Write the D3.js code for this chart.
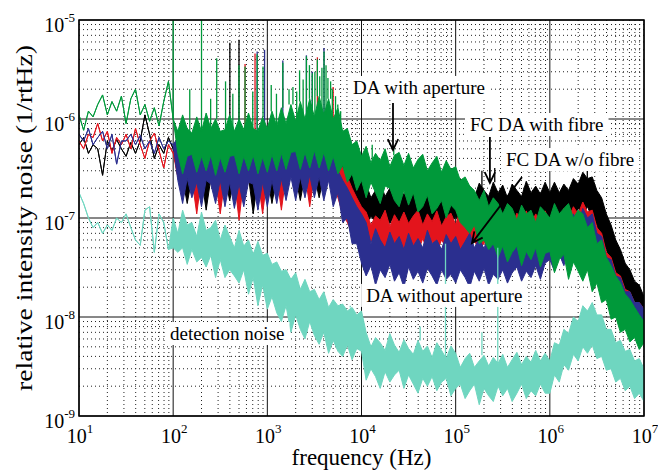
<!DOCTYPE html>
<html><head><meta charset="utf-8">
<script src="https://cdn.jsdelivr.net/npm/d3@7"></script>
<style>body{margin:0;background:#fff}svg{display:block}text{font-family:"Liberation Serif","Times New Roman",serif;fill:#000}</style>
</head><body><svg id="c" width="658" height="471"></svg>
<script>
// frequency grid (Hz)
const freq = [
10,11.2,12.6,14.1,15.8,17.8,20,22.4,25.1,28.2,
31.6,35.5,39.8,44.7,50.1,56.2,63.1,70.8,79.4,89.1,
100,112,126,141,158,178,200,224,251,282,
316,355,398,447,501,562,631,708,794,891,
1e3,1.12e3,1.26e3,1.41e3,1.58e3,1.78e3,2e3,2.24e3,2.51e3,2.82e3,
3.16e3,3.55e3,3.98e3,4.47e3,5.01e3,5.62e3,6.31e3,7.08e3,7.94e3,8.91e3,
1e4,1.12e4,1.26e4,1.41e4,1.58e4,1.78e4,2e4,2.24e4,2.51e4,2.82e4,
3.16e4,3.55e4,3.98e4,4.47e4,5.01e4,5.62e4,6.31e4,7.08e4,7.94e4,8.91e4,
1e5,1.12e5,1.26e5,1.41e5,1.58e5,1.78e5,2e5,2.24e5,2.51e5,2.82e5,
3.16e5,3.55e5,3.98e5,4.47e5,5.01e5,5.62e5,6.31e5,7.08e5,7.94e5,8.91e5,
1e6,1.12e6,1.26e6,1.41e6,1.58e6,1.78e6,2e6,2.24e6,2.51e6,2.82e6,
3.16e6,3.55e6,3.98e6,4.47e6,5.01e6,5.62e6,6.31e6,7.08e6,7.94e6,8.91e6,
1e7];

// FC DA with fibre (black): upper / lower envelope of the noise
const blackHi = [
5.5e-7,6.5e-7,4.5e-7,5.5e-7,5e-7,2.7e-7,6e-7,4.8e-7,6.2e-7,5e-7,
4.2e-7,5.8e-7,4.5e-7,6e-7,1.1e-6,7e-7,4e-7,5.5e-7,4.5e-7,6.5e-7,
5e-7,6e-7,5e-7,6.5e-7,5.5e-7,6e-7,5e-7,6.5e-7,5.5e-7,6e-7,
5.5e-7,6.5e-7,5.5e-7,6e-7,5.5e-7,6.5e-7,5.5e-7,6e-7,5.5e-7,6e-7,
6e-7,6.5e-7,6e-7,7e-7,6.5e-7,7e-7,6.5e-7,7e-7,7e-7,7.5e-7,
7e-7,7.5e-7,7e-7,7e-7,6e-7,5e-7,4e-7,3.2e-7,2.8e-7,2.5e-7,
2.4e-7,2.2e-7,1.6e-7,1.9e-7,2.3e-7,1.65e-7,2e-7,1.55e-7,2.15e-7,1.7e-7,
2.05e-7,2.3e-7,1.6e-7,1.85e-7,2.2e-7,1.6e-7,2.1e-7,1.9e-7,1.6e-7,2.3e-7,
1.7e-7,2.5e-7,1.75e-7,2.1e-7,1.6e-7,2.25e-7,1.9e-7,1.65e-7,2.3e-7,1.8e-7,
2.15e-7,1.6e-7,2.2e-7,1.9e-7,1.65e-7,2.35e-7,1.8e-7,2.1e-7,1.75e-7,2.3e-7,
1.8e-7,2.3e-7,1.8e-7,2.2e-7,1.9e-7,2.5e-7,2.2e-7,2.9e-7,2.5e-7,2.6e-7,
1.9e-7,1.6e-7,1.1e-7,8.5e-8,6e-8,4.8e-8,3.5e-8,3e-8,2.3e-8,2.1e-8,
1.6e-8];
const blackLo = [
null,null,null,null,null,null,null,null,null,null,
null,null,null,null,null,null,null,null,null,null,
null,2.6e-7,2.5e-7,1.4e-7,2.6e-7,2.5e-7,2.6e-7,1.2e-7,2.5e-7,2.6e-7,
2.5e-7,2.6e-7,1.5e-7,2.5e-7,2.6e-7,2.5e-7,2.6e-7,1.1e-7,2.5e-7,2.6e-7,
2.6e-7,1.4e-7,2.6e-7,2.7e-7,2.6e-7,2.7e-7,2.6e-7,1.5e-7,2.7e-7,2.8e-7,
2.7e-7,1.6e-7,2.7e-7,2.6e-7,2.4e-7,1.8e-7,1.4e-7,1.2e-7,1.1e-7,1e-7,
1e-7,8.5e-8,1.05e-7,9e-8,8e-8,1.02e-7,8.8e-8,1.05e-7,8.2e-8,9.5e-8,
8.5e-8,1.05e-7,9.2e-8,8e-8,1e-7,8.8e-8,1.04e-7,8.4e-8,9.8e-8,8.6e-8,
1.04e-7,8.5e-8,9.5e-8,1.05e-7,8.3e-8,9.6e-8,8.7e-8,1.05e-7,8.8e-8,1e-7,
8.6e-8,1.04e-7,9e-8,8.2e-8,1.02e-7,8.9e-8,1.05e-7,8.5e-8,9.7e-8,8.8e-8,
1e-7,9e-8,1.05e-7,9.5e-8,1.1e-7,1e-7,1.25e-7,1.1e-7,1.3e-7,1e-7,
8.5e-8,6e-8,4.8e-8,3.4e-8,2.9e-8,2.1e-8,1.8e-8,1.3e-8,1.2e-8,8.5e-9,
8e-9];
const blackSpikeF = [400,500,1.9e5,2.6e5,2.5e6];
const blackSpikeV = [5.9e-6,6.3e-6,3e-7,3.2e-7,3e-7];

// FC DA w/o fibre (red)
const redHi = [
6e-7,5e-7,7e-7,6.5e-7,9e-7,6e-7,7.5e-7,4.5e-7,6.5e-7,5.5e-7,
7e-7,5e-7,8e-7,5.5e-7,4e-7,6e-7,7.2e-7,4.8e-7,3.2e-7,5.5e-7,
4.5e-7,6e-7,5.5e-7,6.5e-7,5e-7,6e-7,5.5e-7,6.5e-7,5e-7,6e-7,
5.5e-7,6e-7,5e-7,6.5e-7,5.5e-7,6e-7,5e-7,6e-7,5.5e-7,6e-7,
5.5e-7,6.5e-7,6e-7,7e-7,6e-7,7e-7,6.5e-7,7e-7,6.5e-7,7e-7,
6.5e-7,7e-7,6.5e-7,6e-7,5.5e-7,4e-7,3.2e-7,2.6e-7,2e-7,1.6e-7,
1.3e-7,1.15e-7,8.5e-8,1.05e-7,9.5e-8,1.2e-7,8.2e-8,1.08e-7,9e-8,1.15e-7,
8.8e-8,1.05e-7,1.2e-7,8.5e-8,1.1e-7,9.2e-8,1.18e-7,8.3e-8,1.03e-7,1.12e-7,
8.6e-8,1.2e-7,9.4e-8,1.08e-7,8.8e-8,1.22e-7,9.6e-8,1.1e-7,8.5e-8,1.15e-7,
9.2e-8,1.08e-7,8.6e-8,1.12e-7,9.6e-8,1.18e-7,8.8e-8,1.1e-7,9.4e-8,1.18e-7,
9e-8,1.2e-7,9.5e-8,1.25e-7,1e-7,1.3e-7,1.1e-7,1.45e-7,1.15e-7,1.2e-7,
8e-8,7e-8,4.5e-8,4e-8,2.8e-8,2.6e-8,1.9e-8,1.8e-8,1.4e-8,1.4e-8,
1.2e-8];
const redLo = [
null,null,null,null,null,null,null,null,null,null,
null,null,null,null,null,null,null,null,null,null,
null,2.6e-7,2.4e-7,2.7e-7,2.5e-7,1.1e-7,2.6e-7,2.5e-7,2.6e-7,2.4e-7,
1.1e-7,2.5e-7,2.6e-7,2.4e-7,9.5e-8,2.5e-7,2.6e-7,2.4e-7,2.5e-7,1.1e-7,
2.6e-7,2.5e-7,2.6e-7,1.2e-7,2.7e-7,2.6e-7,2.7e-7,2.6e-7,2.8e-7,1.3e-7,
2.7e-7,2.8e-7,2.6e-7,2.5e-7,2.2e-7,1.6e-7,1.1e-7,9e-8,7e-8,6.5e-8,
5.5e-8,4.6e-8,6e-8,5e-8,5.8e-8,4.4e-8,6.2e-8,4.8e-8,5.6e-8,4.5e-8,
6e-8,5.2e-8,4.5e-8,6.2e-8,4.7e-8,5.8e-8,4.5e-8,6e-8,5e-8,4.6e-8,
6e-8,4.5e-8,5.6e-8,4.9e-8,6.1e-8,4.4e-8,5.7e-8,4.8e-8,6e-8,4.6e-8,
5.6e-8,4.8e-8,6.1e-8,4.5e-8,5.8e-8,4.6e-8,6e-8,4.9e-8,5.9e-8,4.8e-8,
6.2e-8,5e-8,6.5e-8,5.3e-8,7e-8,5.5e-8,7.5e-8,6e-8,7.5e-8,5.5e-8,
4.5e-8,3e-8,2.6e-8,1.8e-8,1.6e-8,1.2e-8,1.1e-8,9e-9,8.5e-9,7.5e-9,
7e-9];
const redSpikeF = [580,740,3400,5000];
const redSpikeV = [3.6e-6,4.6e-6,4.2e-6,2.1e-6];

// DA without aperture (blue)
const blueHi = [
7e-7,6e-7,8e-7,5.5e-7,6.5e-7,7.5e-7,5e-7,7e-7,3.5e-7,6e-7,
6e-7,7e-7,5.5e-7,6.8e-7,5e-7,6e-7,4.5e-7,6.5e-7,5e-7,6e-7,
5.5e-7,6.5e-7,4.5e-7,6e-7,5e-7,6.5e-7,4.5e-7,6e-7,5e-7,6.5e-7,
4.5e-7,6e-7,5e-7,6.5e-7,4.5e-7,6e-7,5e-7,6.5e-7,4.5e-7,6e-7,
5e-7,6.5e-7,5e-7,7e-7,5.5e-7,7e-7,5.5e-7,7.5e-7,6e-7,7.5e-7,
6e-7,7.5e-7,6e-7,6.5e-7,5e-7,3e-7,2.4e-7,2e-7,1.6e-7,1.3e-7,
1.1e-7,9e-8,5.5e-8,7.8e-8,6e-8,5e-8,7.2e-8,5.5e-8,6.5e-8,4.8e-8,
7e-8,5.2e-8,6.2e-8,5e-8,7.5e-8,5.5e-8,6e-8,4.8e-8,6.8e-8,5.5e-8,
6.5e-8,4.8e-8,5.8e-8,7e-8,5e-8,6.2e-8,4.9e-8,6.9e-8,5.4e-8,6.3e-8,
5.2e-8,7.2e-8,5.6e-8,6.4e-8,7.5e-8,5.6e-8,6.6e-8,7.8e-8,6e-8,8e-8,
6e-8,8.5e-8,6.8e-8,9.5e-8,7.5e-8,1.1e-7,8.5e-8,1.25e-7,1e-7,1.1e-7,
7e-8,6.5e-8,4e-8,3.8e-8,2.6e-8,2.5e-8,1.8e-8,1.8e-8,1.4e-8,1.4e-8,
1.2e-8];
const blueLo = [
null,null,null,null,null,null,null,null,null,null,
null,null,null,null,null,null,null,null,null,null,
null,2.4e-7,1.4e-7,2.5e-7,1.6e-7,2.3e-7,1.3e-7,2.4e-7,2.2e-7,1.4e-7,
2.4e-7,1.3e-7,2.3e-7,1.25e-7,2.2e-7,1.3e-7,2.3e-7,2.2e-7,1.2e-7,2.3e-7,
1.3e-7,2.4e-7,1.4e-7,2.5e-7,1.5e-7,2.6e-7,1.5e-7,2.6e-7,1.6e-7,2.7e-7,
1.6e-7,2.6e-7,1.5e-7,2.4e-7,1.3e-7,1.8e-7,9e-8,1e-7,5.5e-8,5.5e-8,
3.5e-8,2.6e-8,3.3e-8,2.1e-8,3e-8,2.5e-8,3.4e-8,2.3e-8,2.8e-8,2e-8,
3.2e-8,2.4e-8,2.9e-8,2.2e-8,3.1e-8,2.6e-8,2.1e-8,3e-8,2.4e-8,2.7e-8,
2.2e-8,3e-8,2.5e-8,2e-8,2.9e-8,2.3e-8,3.1e-8,2.1e-8,2.7e-8,2.4e-8,
3e-8,2.2e-8,2.8e-8,3.2e-8,2.3e-8,2.9e-8,2.5e-8,3.3e-8,2.4e-8,3.5e-8,
3.8e-8,2.9e-8,4.3e-8,3.3e-8,5e-8,3.8e-8,5.8e-8,4.2e-8,5.5e-8,5e-8,
3e-8,2.8e-8,1.8e-8,1.8e-8,1.2e-8,1.25e-8,9e-9,9.5e-9,7.5e-9,7.5e-9,
6.5e-9];
const blueSpikeF = [780,935,1460,2600,3000,4000];
const blueSpikeV = [4.8e-6,5e-6,3.9e-6,4.4e-6,3e-6,5.2e-6];

// DA with aperture (green)
const greenHi = [
1.1e-6,7.7e-7,1.2e-6,1.05e-6,1.4e-6,1.75e-6,1.1e-6,1.5e-6,1.2e-6,1.7e-6,
9e-7,1.6e-6,2e-6,1.1e-6,1.4e-6,9.5e-7,1.3e-6,8.5e-7,1.5e-6,2.4e-6,
1e-6,7.5e-7,1.1e-6,8e-7,7.2e-7,1.05e-6,7.5e-7,1.15e-6,8e-7,1e-6,
7.5e-7,7.8e-7,1.1e-6,7.5e-7,1e-6,7.8e-7,1.15e-6,8e-7,7.5e-7,1.05e-6,
8e-7,1.2e-6,8.5e-7,1.3e-6,9e-7,1.4e-6,9.5e-7,1.5e-6,1e-6,1.6e-6,
1.05e-6,1.7e-6,1.1e-6,1.6e-6,1e-6,1.3e-6,7.5e-7,8e-7,5.5e-7,6e-7,
4.2e-7,5.3e-7,3.6e-7,4.5e-7,3.8e-7,5e-7,3.3e-7,4.3e-7,4.6e-7,3.4e-7,
4.5e-7,3.2e-7,3.9e-7,4.4e-7,3e-7,3.6e-7,4.2e-7,2.9e-7,3.8e-7,3.1e-7,
3.3e-7,2.4e-7,2.6e-7,2.1e-7,1.9e-7,1.5e-7,1.9e-7,1.3e-7,1.6e-7,1.4e-7,
1.1e-7,1.4e-7,1.25e-7,9.5e-8,1.35e-7,1.1e-7,1.2e-7,9e-8,1.3e-7,1.15e-7,
1e-7,1.4e-7,1.1e-7,1.25e-7,1.4e-7,1e-7,1.2e-7,1.1e-7,8e-8,9e-8,
5.5e-8,6e-8,4e-8,3.3e-8,2.6e-8,2.2e-8,1.7e-8,1.5e-8,1.25e-8,1.05e-8,
9e-9];
const greenLo = [
null,null,null,null,null,null,null,null,null,null,
null,null,null,null,null,null,null,null,null,null,
null,4.5e-7,2.8e-7,4.2e-7,4.4e-7,2.9e-7,4.2e-7,3e-7,4.3e-7,2.7e-7,
4.1e-7,2.9e-7,4.2e-7,4.3e-7,2.8e-7,4.2e-7,3e-7,4.3e-7,2.8e-7,4.1e-7,
2.9e-7,4.4e-7,3e-7,4.5e-7,3.1e-7,4.6e-7,4.7e-7,3.1e-7,4.6e-7,3.2e-7,
4.8e-7,3.2e-7,4.6e-7,3e-7,4.2e-7,2.8e-7,3.4e-7,2.3e-7,2.8e-7,1.9e-7,
2.4e-7,1.6e-7,2.3e-7,1.8e-7,1.4e-7,2.1e-7,2e-7,1.5e-7,1.3e-7,1.9e-7,
1.35e-7,1.8e-7,1.15e-7,1.3e-7,1.7e-7,1.1e-7,1.25e-7,1.5e-7,1e-7,1.35e-7,
1.2e-7,9e-8,8e-8,7e-8,8.5e-8,5.5e-8,6e-8,4.8e-8,5.5e-8,4e-8,
5.2e-8,3.6e-8,4.5e-8,5.2e-8,3.3e-8,4.6e-8,3.8e-8,5e-8,3.2e-8,4.4e-8,
4.6e-8,2.8e-8,3.8e-8,4.3e-8,2.4e-8,3.6e-8,2.9e-8,2.3e-8,3e-8,1.8e-8,
2.2e-8,1.4e-8,1.5e-8,9.5e-9,1e-8,7e-9,7.5e-9,5.6e-9,6.2e-9,4.7e-9,
5.5e-9];
const greenSpikeF = [100,150,200,250,290,360,430,500,580,700,780,900,1100,1250,1460,1700,1870,2050,2200,2400,2600,2800,3000,3200,3400,3600,3800,4000,4200,4400,4700,4900,5300,5600,6000,1.3e4,2.2e4];
const greenSpikeV = [1e-5,2e-6,1e-5,1.6e-6,4.1e-6,2.4e-6,1.8e-6,3.5e-6,3.4e-6,1.9e-6,4.5e-6,3.4e-6,2.2e-6,1.8e-6,3.7e-6,2e-6,2.1e-6,1.9e-6,3.1e-6,2.5e-6,4.3e-6,3.5e-6,2.9e-6,3e-6,4e-6,2.7e-6,3.3e-6,4.8e-6,3.5e-6,2.6e-6,2.4e-6,2e-6,1.7e-6,1.4e-6,1.2e-6,5.5e-7,5.2e-7];

// detection noise (turquoise)
const detHi = [
1.8e-7,1.4e-7,1e-7,8e-8,9e-8,7e-8,8.5e-8,7.5e-8,1e-7,9e-8,
1.1e-7,8e-8,6e-8,5.3e-8,1.2e-7,1.3e-7,4.5e-8,1.1e-7,9e-8,4.8e-8,
1e-7,7e-8,1.2e-7,8.5e-8,9e-8,6.5e-8,1.15e-7,7.5e-8,8e-8,9.5e-8,
6e-8,8.5e-8,6.5e-8,5e-8,7.5e-8,5.2e-8,6e-8,4.3e-8,5.8e-8,4.2e-8,
4.4e-8,3.4e-8,3.6e-8,2.9e-8,3e-8,2.4e-8,2.8e-8,1.9e-8,2.4e-8,1.8e-8,
1.9e-8,1.5e-8,1.8e-8,1.25e-8,1.5e-8,1.3e-8,1.35e-8,1.15e-8,1.25e-8,1.05e-8,
1.15e-8,7e-9,5e-9,6.2e-9,5.5e-9,4.6e-9,6.8e-9,5.2e-9,4.4e-9,5.9e-9,
4.8e-9,4.2e-9,5.8e-9,4.5e-9,5.1e-9,3.9e-9,5.5e-9,4.6e-9,3.8e-9,5.1e-9,
4.3e-9,3.1e-9,3.8e-9,4.3e-9,3.1e-9,3.6e-9,4.1e-9,3.2e-9,3.9e-9,3.4e-9,
4.2e-9,3.1e-9,3.7e-9,4.4e-9,3.3e-9,4e-9,3.5e-9,4.6e-9,3.6e-9,4.3e-9,
3.6e-9,5.5e-9,5.2e-9,7.5e-9,6.8e-9,1e-8,9e-9,1.3e-8,1.15e-8,1.4e-8,
1.05e-8,1.05e-8,7.5e-9,7.5e-9,5.5e-9,5.8e-9,4.5e-9,4.7e-9,3.6e-9,3.8e-9,
3e-9];
const detLo = [
null,null,null,null,null,null,null,null,null,null,
null,null,null,null,null,null,null,null,null,null,
5e-8,4.5e-8,5e-8,3.4e-8,4.8e-8,3.6e-8,4e-8,3.2e-8,4.2e-8,2.5e-8,
3.8e-8,2.5e-8,3e-8,2.6e-8,2.2e-8,3e-8,1.7e-8,2.5e-8,1.3e-8,2.1e-8,
1.2e-8,1.6e-8,1.1e-8,9e-9,1.3e-8,7e-9,1.05e-8,7.5e-9,6e-9,9e-9,
6.5e-9,5.3e-9,7e-9,4.3e-9,5.8e-9,4.5e-9,4e-9,5.2e-9,3.7e-9,4.8e-9,
4.5e-9,2.3e-9,3e-9,2.5e-9,1.9e-9,2.8e-9,2.2e-9,2.6e-9,2.9e-9,1.9e-9,
2.6e-9,2.1e-9,1.7e-9,2.4e-9,2e-9,2.5e-9,1.8e-9,2.2e-9,2.4e-9,1.6e-9,
1.9e-9,2.1e-9,1.5e-9,1.8e-9,2.1e-9,1.3e-9,1.9e-9,1.6e-9,1.4e-9,2e-9,
1.6e-9,1.9e-9,1.4e-9,1.7e-9,2.1e-9,1.5e-9,1.8e-9,1.6e-9,2.1e-9,1.7e-9,
1.7e-9,2.6e-9,2.2e-9,3.3e-9,2.9e-9,4.2e-9,3.6e-9,5e-9,4.3e-9,5.2e-9,
3.8e-9,4e-9,2.9e-9,3e-9,2.2e-9,2.4e-9,1.8e-9,2e-9,1.5e-9,1.7e-9,
1.4e-9];
const detSpikeF = [7.6e3,4.2e4,7.8e4,1.9e5,2.8e5];
const detSpikeV = [1.3e-8,8e-9,5.5e-8,7e-9,5e-8];

// annotations (data coordinates)
const labelText = ["DA with aperture","FC DA with fibre","FC DA w/o fibre","DA without aperture","detection noise"];
const labelF = [8.13e3,1.42e5,3.42e5,1.12e4,92.5];
const labelV = [1.79e-6,7.57e-7,3.35e-7,1.42e-8,5.86e-9];
const arrowF1 = [2.16e4,2.31e5,5.06e5];
const arrowV1 = [1.45e-6,6.58e-7,2.59e-7];
const arrowF2 = [2.16e4,2.31e5,1.49e5];
const arrowV2 = [4.87e-7,2.26e-7,5.58e-8];

const L=79,R=644,T=20,B=416;
const x = d3.scaleLog().domain([10,1e7]).range([L,R]);
const y = d3.scaleLog().domain([1e-9,1e-5]).range([B,T]);
const svg = d3.select('#c');
svg.append('rect').attr('width',658).attr('height',471).attr('fill','#fff');
svg.append('defs').append('clipPath').attr('id','clip').append('rect')
  .attr('x',L).attr('y',T).attr('width',R-L).attr('height',B-T);

const isMajor = v => Math.abs(Math.log10(v)-Math.round(Math.log10(v)))<1e-6;
const grid = svg.append('g');
x.ticks().forEach(t=>{
  grid.append('line').attr('x1',x(t)).attr('x2',x(t)).attr('y1',T).attr('y2',B)
    .attr('stroke',isMajor(t)?'#111':'#222').attr('stroke-width',1)
    .attr('stroke-dasharray',isMajor(t)?null:'1,3');
});
y.ticks().forEach(t=>{
  grid.append('line').attr('y1',y(t)).attr('y2',y(t)).attr('x1',L).attr('x2',R)
    .attr('stroke',isMajor(t)?'#111':'#222').attr('stroke-width',1)
    .attr('stroke-dasharray',isMajor(t)?null:'1,3');
});

const plot = svg.append('g').attr('clip-path','url(#clip)');
function drawSeries(hi, lo, sf, sv, color){
  const data = freq.map((f,i)=>({f, hi:hi[i], lo: lo[i]==null?hi[i]:lo[i]}));
  const area = d3.area().x(d=>x(d.f)).y0(d=>y(d.lo)).y1(d=>y(d.hi));
  plot.append('path').attr('d',area(data)).attr('fill',color)
    .attr('stroke',color).attr('stroke-width',1).attr('stroke-linejoin','round');
  sf.forEach((f,i)=>{
    const idx = d3.leastIndex(freq, g=>Math.abs(Math.log(g/f)));
    plot.append('line').attr('x1',x(f)).attr('x2',x(f))
      .attr('y1',y(hi[idx])).attr('y2',y(sv[i]))
      .attr('stroke',color).attr('stroke-width',1.3);
  });
}
drawSeries(blackHi, blackLo, blackSpikeF, blackSpikeV, '#000000');
drawSeries(redHi, redLo, redSpikeF, redSpikeV, '#e3141c');
drawSeries(blueHi, blueLo, blueSpikeF, blueSpikeV, '#2b2f8f');
drawSeries(greenHi, greenLo, greenSpikeF, greenSpikeV, '#00993a');
drawSeries(detHi, detLo, detSpikeF, detSpikeV, '#6fd6c0');

// frame
svg.append('rect').attr('x',L).attr('y',T).attr('width',R-L).attr('height',B-T)
  .attr('fill','none').attr('stroke','#000').attr('stroke-width',1.5);

// tick labels
y.ticks().filter(isMajor).forEach(t=>{
  const e = Math.round(Math.log10(t));
  const tx = svg.append('text').attr('x',75).attr('y',y(t)+12).attr('text-anchor','end');
  tx.append('tspan').attr('font-size',20).text('10');
  tx.append('tspan').attr('font-size',13).attr('dy',-10).text(String(e));
});
x.ticks().filter(isMajor).forEach(t=>{
  const e = Math.round(Math.log10(t));
  const tx = svg.append('text').attr('x',x(t)+1).attr('y',443).attr('text-anchor','middle');
  tx.append('tspan').attr('font-size',20).text('10');
  tx.append('tspan').attr('font-size',13).attr('dy',-10).text(String(e));
});

// axis titles
svg.append('text').attr('x',(L+R)/2).attr('y',465).attr('text-anchor','middle')
  .attr('font-size',23).text('frequency (Hz)');
svg.append('text').attr('transform',`translate(32,${(T+B)/2}) rotate(-90)`)
  .attr('text-anchor','middle').attr('font-size',23)
  .attr('textLength',346).attr('lengthAdjust','spacingAndGlyphs')
  .text('relative intensity noise (1/rtHz)');

// annotations
const ann = svg.append('g');
labelText.forEach((s,i)=>{
  const g = ann.append('g');
  const t = g.append('text').attr('x',x(labelF[i])).attr('y',y(labelV[i])).attr('font-size',19).text(s);
  const bb = t.node().getBBox();
  g.insert('rect','text').attr('x',bb.x-5).attr('y',bb.y-1).attr('width',bb.width+10).attr('height',bb.height+2).attr('fill','#fff');
});
arrowF1.forEach((f,i)=>{
  const x1=x(f), y1=y(arrowV1[i]), x2=x(arrowF2[i]), y2=y(arrowV2[i]);
  const a = Math.atan2(y2-y1, x2-x1), hl=12, ha=0.45;
  ann.append('path')
    .attr('d',`M${x1},${y1}L${x2},${y2}M${x2-hl*Math.cos(a-ha)},${y2-hl*Math.sin(a-ha)}L${x2},${y2}L${x2-hl*Math.cos(a+ha)},${y2-hl*Math.sin(a+ha)}`)
    .attr('fill','none').attr('stroke','#000').attr('stroke-width',1.8);
});
</script></body></html>
